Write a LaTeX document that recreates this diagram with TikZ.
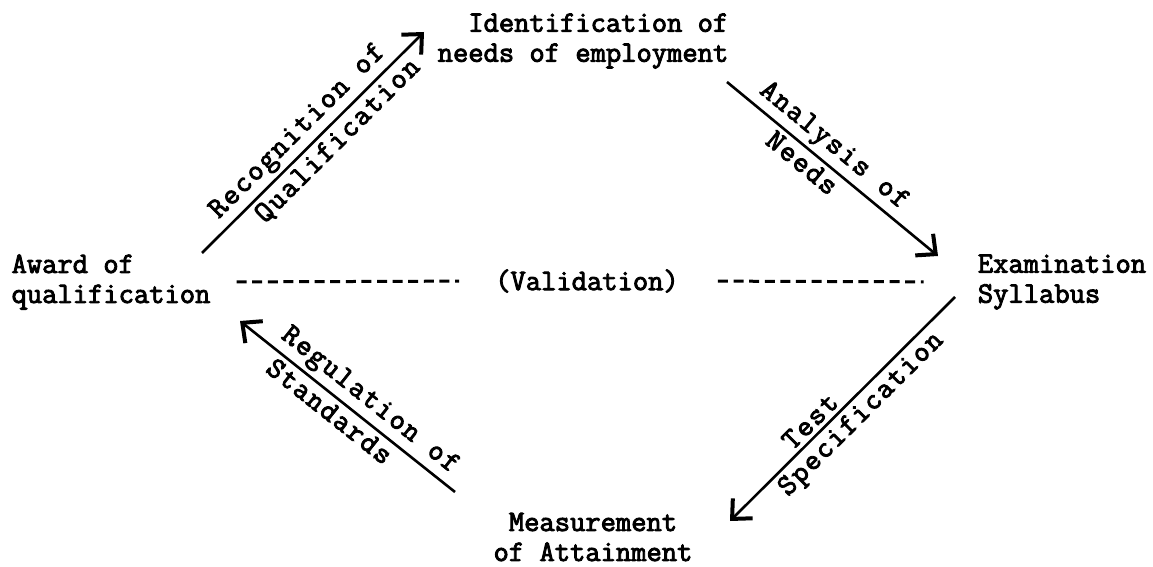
\documentclass[tikz,border=0pt]{standalone}
\usepackage{fontspec}
\newfontfamily\twfont{Latin Modern Mono}[FakeBold=3]
\newfontfamily\twwide{Latin Modern Mono}[FakeBold=3, LetterSpace=6]
\usetikzlibrary{arrows.meta}
\begin{document}
\begin{tikzpicture}[x=1pt,y=-1pt,
  lbl/.style={font=\twfont\fontsize{29.7}{30}\selectfont, inner sep=0pt},
  flow/.style={line width=2.6pt, -{Straight Barb[length=15pt,width=28pt,line width=4pt]}},
  valdash/.style={line width=3pt, dash pattern=on 10pt off 5.6pt},
  arrlbl/.style={font=\twwide\fontsize{29.7}{30}\selectfont, inner sep=4pt, sloped}]
\useasboundingbox (0,0) rectangle (1153,567);
% main nodes
\node[lbl, align=right] (ident) at (583,41) {Identification of\\needs of employment};
\node[lbl, align=left] (award) at (111,282) {Award of\\qualification};
\node[lbl, align=left] (exam) at (1062,282) {Examination\\Syllabus};
\node[lbl, align=center] (meas) at (593,537) {Measurement\\of Attainment};
\node[lbl] (valid) at (587,281) {(Validation)};
% arrow end points
\coordinate (recS) at (202,253); \coordinate (recE) at (424,32);
\coordinate (anaS) at (727,82);  \coordinate (anaE) at (938,256);
\coordinate (tesS) at (955,297); \coordinate (tesE) at (730,521);
\coordinate (regS) at (455,492); \coordinate (regE) at (240,321);
% connectors
\draw[flow] (recS) -- node[arrlbl, above, pos=0.49] {Recognition of}
                      node[arrlbl, below, pos=0.56] {Qualification} (recE);
\draw[flow] (anaS) -- node[arrlbl, above, pos=0.45] {Analysis of}
                      node[arrlbl, below, pos=0.4] {Needs} (anaE);
\draw[flow] (tesS) -- node[arrlbl, above, pos=0.6] {Test}
                      node[arrlbl, below, pos=0.47] {Specification} (tesE);
\draw[flow] (regS) -- node[arrlbl, below, pos=0.54] {Standards}
                      node[arrlbl, above, pos=0.45] {Regulation of} (regE);
% validation dashes
\draw[valdash, shorten <=26pt, shorten >=36pt] (award.east) -- (valid.west);
\draw[valdash, shorten <=39pt, shorten >=54pt] (valid.east) -- (exam.west);
\end{tikzpicture}
\end{document}
